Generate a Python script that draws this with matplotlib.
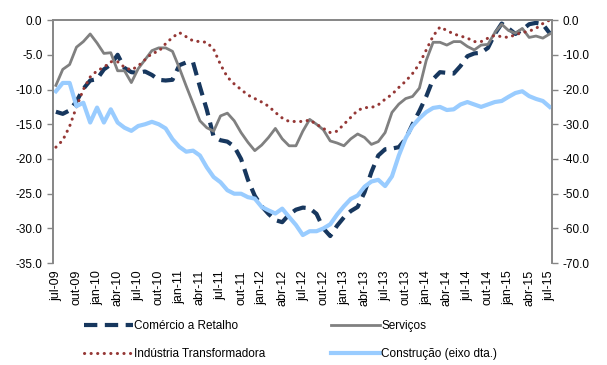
import numpy as np
import matplotlib.pyplot as plt

plt.rcParams['font.family'] = ['Liberation Sans', 'DejaVu Sans']

# monthly series, jul-09 .. jul-15
comercio = [-13.2, -13.5, -13.0, -11.7, -9.9, -8.7, -8.5, -7.1, -6.4, -5.0,
            -6.9, -7.5, -7.6, -7.4, -7.9, -8.6, -8.7, -8.6, -6.5, -6.1,
            -6.1, -9.6, -12.9, -16.8, -17.3, -17.5, -18.2, -20.0, -23.0, -25.3,
            -26.8, -27.9, -28.8, -29.1, -28.0, -27.3, -27.0, -27.1, -27.9, -30.0,
            -31.1, -29.6, -28.4, -27.5, -26.9, -24.8, -21.9, -19.5, -18.6, -18.5,
            -18.3, -17.1, -15.0, -13.1, -11.0, -8.5, -7.5, -7.6, -7.7, -6.6,
            -5.2, -4.8, -4.7, -4.0, -2.0, -0.5, -1.2, -2.0, -1.4, -0.6,
            -0.4, -0.6, -1.9]
servicos = [-9.4, -7.1, -6.4, -3.9, -3.1, -2.0, -3.3, -4.8, -4.7, -7.3,
            -7.3, -9.0, -7.0, -5.7, -4.4, -4.0, -4.0, -4.5, -6.9, -9.5,
            -12.0, -14.5, -15.5, -16.0, -13.8, -13.4, -14.5, -16.2, -17.6, -18.8,
            -18.0, -16.9, -15.6, -17.1, -18.1, -18.1, -16.0, -14.3, -15.0, -15.8,
            -17.4, -17.7, -18.1, -17.1, -16.4, -16.9, -17.9, -17.5, -16.2, -13.3,
            -12.1, -11.3, -11.0, -9.8, -5.8, -3.2, -3.2, -3.6, -3.1, -3.1,
            -3.8, -4.3, -3.6, -3.5, -1.8, -0.6, -1.5, -1.9, -1.2, -2.5,
            -2.3, -2.6, -2.0]
industria = [-18.3, -17.3, -15.3, -12.5, -10.0, -8.2, -7.3, -6.8, -6.0, -6.0,
             -6.8, -7.2, -6.6, -5.7, -4.8, -4.5, -3.4, -2.5, -1.8, -2.4,
             -3.0, -3.1, -3.2, -4.2, -6.4, -8.2, -9.2, -10.0, -10.8, -11.3,
             -11.8, -12.4, -13.3, -14.1, -14.6, -14.6, -14.6, -14.4, -15.0, -15.6,
             -16.2, -16.0, -15.0, -14.0, -13.0, -12.6, -12.6, -12.2, -11.4, -10.7,
             -9.7, -8.8, -7.7, -6.3, -4.3, -2.3, -1.0, -1.5, -2.0, -2.3,
             -2.6, -3.1, -3.1, -2.6, -2.2, -2.4, -2.5, -2.1, -1.8, -1.6,
             -1.2, -0.5, 0.0]
construcao = [-20.5, -18.1, -18.1, -24.8, -23.8, -29.5, -25.2, -29.5, -25.7, -29.5,
              -31.0, -31.9, -30.5, -30.0, -29.3, -30.0, -31.2, -34.3, -36.5, -37.9,
              -37.6, -39.0, -42.4, -45.2, -46.7, -49.0, -50.0, -50.0, -51.0, -51.4,
              -53.8, -54.8, -55.7, -54.3, -56.7, -59.0, -61.9, -60.8, -60.8, -60.0,
              -58.8, -56.0, -53.6, -51.5, -50.5, -48.0, -46.5, -46.0, -47.8, -45.0,
              -39.0, -34.0, -30.5, -28.3, -26.5, -25.3, -25.0, -25.9, -25.7, -24.3,
              -23.6, -24.3, -25.0, -24.3, -23.6, -23.3, -22.1, -21.0, -20.5, -21.9,
              -22.7, -23.3, -25.0]

tick_labels = ['jul-09', 'out-09', 'jan-10', 'abr-10', 'jul-10', 'out-10',
               'jan-11', 'abr-11', 'jul-11', 'out-11', 'jan-12', 'abr-12',
               'jul-12', 'out-12', 'jan-13', 'abr-13', 'jul-13', 'out-13',
               'jan-14', 'abr-14', 'jul-14', 'out-14', 'jan-15', 'abr-15',
               'jul-15']

x = np.arange(len(comercio))
axis_grey = '#868686'

fig = plt.figure(figsize=(6.07, 3.65), dpi=100)
ax = fig.add_axes([0.087, 0.279, 0.822, 0.666])
ax2 = ax.twinx()

l1, = ax.plot(x, comercio, color='#17375E', lw=3.0, ls=(0, (3.2, 1.8)),
              label='Comércio a Retalho')
l2, = ax.plot(x, servicos, color='#808080', lw=2.0, label='Serviços')
l3, = ax.plot(x, industria, color='#953735', lw=2.2, ls=(0, (0.05, 2.1)),
              dash_capstyle='round', label='Indústria Transformadora')
l4, = ax2.plot(x, construcao, color='#99CCFF', lw=3.0,
               label='Construção (eixo dta.)')

ax.set_xlim(-0.45, 72.3)
ax.set_ylim(-35, 0)
ax2.set_ylim(-70, 0)
ax.set_yticks(np.arange(-35, 1, 5))
ax2.set_yticks(np.arange(-70, 1, 10))
ax.set_yticklabels(['%.1f' % v for v in np.arange(-35, 1, 5)])
ax2.set_yticklabels(['%.1f' % v for v in np.arange(-70, 1, 10)])

ax.set_xticks(np.arange(0, 73, 3))
ax.set_xticklabels(tick_labels, rotation=90)
ax.tick_params(axis='x', length=0, pad=5, labelsize=9, colors='black')
ax.tick_params(axis='y', length=4, width=1, color=axis_grey, labelsize=8.5)
ax2.tick_params(axis='y', length=4, width=1, color=axis_grey, labelsize=8.5)

for a in (ax, ax2):
    a.spines['bottom'].set_visible(False)
    for s in ('left', 'right', 'top'):
        a.spines[s].set_color(axis_grey)
        a.spines[s].set_linewidth(1.2)

fig.legend([l1, l3, l2, l4], [h.get_label() for h in (l1, l3, l2, l4)],
           ncol=2, loc='upper left', bbox_to_anchor=(0.13, 0.135),
           frameon=False, fontsize=8.5, handlelength=4.2, handletextpad=0.1,
           columnspacing=5.5, labelspacing=1.3, borderaxespad=0)

fig.savefig('out.png', dpi=100)
